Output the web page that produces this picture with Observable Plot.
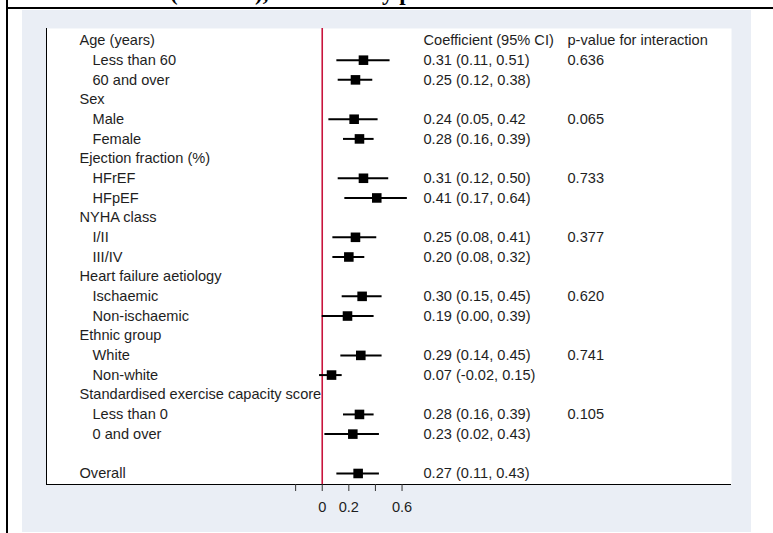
<!DOCTYPE html>
<html>
<head>
<meta charset="utf-8">
<script src="https://cdn.jsdelivr.net/npm/d3@7"></script>
<script src="https://cdn.jsdelivr.net/npm/@observablehq/plot@0.6"></script>
<style>
  html, body { margin: 0; padding: 0; background: #ffffff; }
  #wrap { position: relative; width: 773px; height: 533px; overflow: hidden; background: #ffffff; }
  #title { position: absolute; left: 170px; top: -20px; height: 30px; white-space: pre;
           font-family: "Liberation Serif", "DejaVu Serif", serif; font-weight: bold; font-size: 23px; color: #000; }
  #hline { position: absolute; left: 6px; top: 7px; width: 767px; height: 2px; background: #000; }
  #vline { position: absolute; left: 6px; top: 0; width: 2px; height: 533px; background: #000; }
  #panel { position: absolute; left: 22px; top: 10px; width: 729px; height: 522px; background: #eaeef5; }
  #chart { position: absolute; left: 0; top: 0; }
</style>
</head>
<body>
<div id="wrap">
  <div id="title">(95% CI), stratified by patient</div>
  <div id="hline"></div>
  <div id="vline"></div>
  <div id="panel"></div>
  <div id="chart"></div>
</div>
<script>
// ---- data ----
const labels = [
  "Age (years)", "Less than 60", "60 and over",
  "Sex", "Male", "Female",
  "Ejection fraction (%)", "HFrEF", "HFpEF",
  "NYHA class", "I/II", "III/IV",
  "Heart failure aetiology", "Ischaemic", "Non-ischaemic",
  "Ethnic group", "White", "Non-white",
  "Standardised exercise capacity score", "Less than 0", "0 and over",
  "", "Overall"
];
const isHeader = [1,0,0, 1,0,0, 1,0,0, 1,0,0, 1,0,0, 1,0,0, 1,0,0, 1,1];
const estimates = [null,0.31,0.25, null,0.24,0.28, null,0.31,0.41, null,0.25,0.20, null,0.30,0.19, null,0.29,0.07, null,0.28,0.23, null,0.27];
const lower     = [null,0.11,0.12, null,0.05,0.16, null,0.12,0.17, null,0.08,0.08, null,0.15,0.00, null,0.14,-0.02, null,0.16,0.02, null,0.11];
const upper     = [null,0.51,0.38, null,0.42,0.39, null,0.50,0.64, null,0.41,0.32, null,0.45,0.39, null,0.45,0.15, null,0.39,0.43, null,0.43];
const ciText = [
  "Coefficient (95% CI)", "0.31 (0.11, 0.51)", "0.25 (0.12, 0.38)",
  "", "0.24 (0.05, 0.42", "0.28 (0.16, 0.39)",
  "", "0.31 (0.12, 0.50)", "0.41 (0.17, 0.64)",
  "", "0.25 (0.08, 0.41)", "0.20 (0.08, 0.32)",
  "", "0.30 (0.15, 0.45)", "0.19 (0.00, 0.39)",
  "", "0.29 (0.14, 0.45)", "0.07 (-0.02, 0.15)",
  "", "0.28 (0.16, 0.39)", "0.23 (0.02, 0.43)",
  "", "0.27 (0.11, 0.43)"
];
const pText = [
  "p-value for interaction", "0.636", "",
  "", "0.065", "",
  "", "0.733", "",
  "", "0.377", "",
  "", "0.620", "",
  "", "0.741", "",
  "", "0.105", "",
  "", ""
];
const xTickValues = [-0.2, 0, 0.2, 0.4, 0.6];
const xTickLabels = ["", "0", "0.2", "", "0.6"];

// ---- table for the library ----
const rows = labels.map((label, i) => ({
  i, label, header: isHeader[i] === 1,
  est: estimates[i], lo: lower[i], hi: upper[i],
  ci: ciText[i], p: pText[i]
}));
const withEst = rows.filter(d => d.est != null);

const xDomain = [-2.073, 3.077];
const yDomain = [-0.61, 22.56];
const red = "#c8143c";
const ink = "#1e1e1e";

const chart = Plot.plot({
  width: 773,
  height: 533,
  marginLeft: 46,
  marginRight: 42,
  marginTop: 28,
  marginBottom: 49,
  style: { background: "transparent", fontFamily: "'Liberation Sans', Arial, sans-serif", fontSize: "14.6px", color: ink, overflow: "visible" },
  x: { domain: xDomain },
  y: { domain: yDomain, reverse: true, axis: null },
  marks: [
    Plot.frame({ fill: "white", stroke: "none" }),
    Plot.ruleX([xDomain[0]], { stroke: "black", strokeWidth: 1 }),
    Plot.ruleY([yDomain[1]], { stroke: "black", strokeWidth: 1 }),
    Plot.ruleX([0], { stroke: red, strokeWidth: 1.6 }),
    Plot.ruleY(withEst, { y: "i", x1: "lo", x2: "hi", stroke: "black", strokeWidth: 2 }),
    Plot.dot(withEst, { x: "est", y: "i", symbol: "square", r: 5.4, fill: "black", stroke: "none" }),
    Plot.text(rows.filter(d => d.header), { y: "i", text: "label", frameAnchor: "left", textAnchor: "start", dx: 33, fill: ink }),
    Plot.text(rows.filter(d => !d.header), { y: "i", text: "label", frameAnchor: "left", textAnchor: "start", dx: 46, fill: ink }),
    Plot.text(rows, { y: "i", text: "ci", frameAnchor: "left", textAnchor: "start", dx: 377, fill: ink }),
    Plot.text(rows, { y: "i", text: "p", frameAnchor: "left", textAnchor: "start", dx: 521, fill: ink }),
    Plot.axisX({
      ticks: xTickValues,
      tickFormat: (d) => xTickLabels[xTickValues.indexOf(d)],
      tickSize: 7,
      tickPadding: 10,
      stroke: "#333",
      fill: ink,
      label: null
    })
  ]
});
document.getElementById("chart").appendChild(chart);
</script>
</body>
</html>
